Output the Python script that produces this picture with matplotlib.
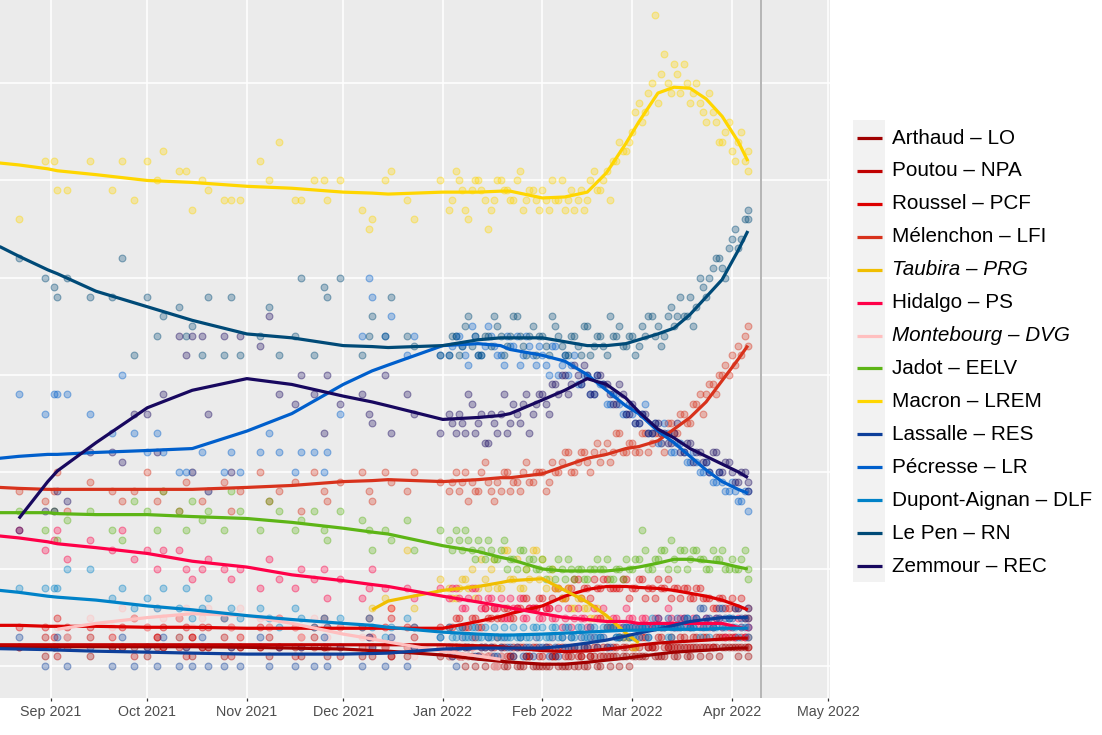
import numpy as np
import matplotlib
matplotlib.use("Agg")
import matplotlib.pyplot as plt
from matplotlib.lines import Line2D
from matplotlib.patches import Rectangle

plt.rcParams['font.family'] = ['Liberation Sans', 'DejaVu Sans']
nan = np.nan

# ---------------- data ----------------
candidates = ["Arthaud – LO", "Poutou – NPA", "Roussel – PCF", "Mélenchon – LFI",
              "Taubira – PRG", "Hidalgo – PS", "Montebourg – DVG", "Jadot – EELV",
              "Macron – LREM", "Lassalle – RES", "Pécresse – LR",
              "Dupont-Aignan – DLF", "Le Pen – RN", "Zemmour – REC"]
colors = ["#A00000", "#C00000", "#DD0000", "#D8321C", "#F0BE00", "#FF0048",
          "#FFBFBF", "#5DB516", "#FFD600", "#0D3F9A", "#005FCC", "#0082C8",
          "#004A77", "#18085F"]
withdrawn = [False, False, False, False, True, False, True, False,
             False, False, False, False, False, False]

# polls, series A
poll_dates = [
    "2021-08-22", "2021-08-30", "2021-09-02", "2021-09-03", "2021-09-06", "2021-09-13",
    "2021-09-20", "2021-09-23", "2021-09-27", "2021-10-01", "2021-10-04", "2021-10-06",
    "2021-10-11", "2021-10-13", "2021-10-15", "2021-10-18", "2021-10-20", "2021-10-25",
    "2021-10-27", "2021-10-30", "2021-11-05", "2021-11-08", "2021-11-11", "2021-11-16",
    "2021-11-18", "2021-11-22", "2021-11-25", "2021-11-26", "2021-11-30", "2021-12-07",
    "2021-12-09", "2021-12-10", "2021-12-14", "2021-12-16", "2021-12-21", "2021-12-23",
    "2021-12-31",
    "2022-01-03", "2022-01-05", "2022-01-07", "2022-01-09", "2022-01-11", "2022-01-13",
    "2022-01-15", "2022-01-17", "2022-01-19", "2022-01-21", "2022-01-23", "2022-01-25",
    "2022-01-27", "2022-01-29", "2022-01-31",
    "2022-02-02", "2022-02-04", "2022-02-06", "2022-02-08", "2022-02-10", "2022-02-12",
    "2022-02-14", "2022-02-16", "2022-02-18", "2022-02-20", "2022-02-22", "2022-02-24",
    "2022-02-26", "2022-02-28",
    "2022-03-02", "2022-03-04", "2022-03-06", "2022-03-08", "2022-03-10", "2022-03-12",
    "2022-03-14", "2022-03-16", "2022-03-18", "2022-03-20", "2022-03-22", "2022-03-24",
    "2022-03-26", "2022-03-28", "2022-03-30",
    "2022-04-01", "2022-04-03", "2022-04-05", "2022-04-06"]

polls_arthaud = [1, 0.5, 1, 1, 1.5, 0.5, 1, 1, 1, 0.5, 1, 1, 1.5, 1, 0.5, 1, 1, 0.5, 1, 1,
                 1, 0.5, 1, 1, 0.5, 1, 1, 0.5, 1, 0.5, 1, 0.5, 1, 0.5, 0.5, 1, 0.5,
                 0.5, 1, 0.5, 0.5, 0, 0.5, 0.5, 0, 0.5, 0, 0.5, 0, 0.5, 0, 0,
                 0, 0.5, 0, 0, 0.5, 0, 0, 0.5, 0, 0.5, 0, 0.5, 0.5, 0,
                 0.5, 0.5, 1, 0.5, 0.5, 1, 0.5, 1, 0.5, 1, 0.5, 1, 1, 0.5, 1,
                 1, 0.5, 1, 1]
polls_poutou = [1, 1.5, 1, 0.5, 1, 1.5, 1, 1, 0.5, 1, 1.5, 1, 1, 0.5, 1.5, 1, 1, 1.5, 0.5, 1,
                1, 1.5, 1, 0.5, 1, 1.5, 1, 1, 0.5, 1, 1.5, 1, 1, 0.5, 1, 1.5, 1,
                1, 1, 0.5, 1, 1.5, 1, 0.5, 1, 1, 0.5, 1, 1, 0.5, 1, 0.5,
                1, 0.5, 1, 0.5, 1, 0.5, 1, 0.5, 1, 1, 0.5, 1, 1, 1.5,
                1, 1.5, 1, 1, 1.5, 1, 1, 1.5, 1, 1.5, 1, 1.5, 1, 1.5, 1.5,
                1.5, 1, 1.5, 1.5]
polls_roussel = [2, 2, 1.5, 2.5, 2, 2, 1.5, 2, 2.5, 2, 1.5, 2, 2.5, 2, 1.5, 2, 2, 2.5, 2, 1.5,
                 2, 2, 2.5, 2, 1.5, 2, 2.5, 2, 2, 2, 2.5, 1.5, 2, 2.5, 2, 2, 2,
                 2, 2.5, 2, 2, 2.5, 2, 2.5, 3, 2.5, 3, 2.5, 3, 3.5, 3, 3.5,
                 3, 3.5, 4, 3.5, 4, 4.5, 4, 3.5, 4, 4.5, 4, 4, 4.5, 3.5,
                 4, 4.5, 4, 3.5, 4, 4.5, 4, 3.5, 4, 3.5, 4, 3.5, 3, 3.5, 3,
                 3.5, 3, 2.5, 3]
polls_melenchon = [9, 8.5, 9, 10, 8, 9.5, 9, 8.5, 9, 10, 8.5, 9, 8, 9.5, 10, 8.5, 9, 9.5, 8, 9,
                   10, 8.5, 9, 9.5, 8, 10, 9, 8.5, 9.5, 10, 9, 8.5, 10, 9.5, 9, 10, 9.5,
                   9, 10, 9.5, 8.5, 9, 10, 9.5, 8.5, 9, 10, 9.5, 9, 10.5, 9.5, 10,
                   9, 10.5, 10, 11, 10, 10.5, 11, 10, 11.5, 11, 10.5, 12, 11, 11.5,
                   11, 12, 11, 12, 11.5, 12.5, 12, 13, 12.5, 13.5, 14, 14, 14.5, 15, 15.5,
                   16, 16.5, 17, 17.5]
polls_taubira = [nan] * 31 + [3, 3.5, 3, 6, 3, 4.5,
                 4, 3.5, 4.5, 4, 3.5, 5.5, 4, 5.5, 4, 6, 4.5, 4, 5, 6, 4.5,
                 4, 5, 4, 3.5, 3, 3.5, 3, 2.5, 3, 2.5, 2, 2, 1.5, 1.5,
                 1] + [nan] * 18
polls_hidalgo = [7, 6, 6.5, 7, 5.5, 6.5, 6, 7, 5.5, 6, 5, 6, 6, 5, 4.5, 5, 5.5, 5, 4.5, 5,
                 4, 5.5, 4.5, 4, 5, 4.5, 5, 3.5, 4.5, 3.5, 4, 5, 4, 3, 4, 3.5, 4,
                 3.5, 4, 3, 3.5, 4, 3, 3.5, 3, 3.5, 2.5, 3, 3.5, 2.5, 3, 2.5,
                 3, 2.5, 3, 2.5, 2, 3, 2.5, 2, 2.5, 3, 2, 2.5, 2, 2.5,
                 2, 2.5, 2, 2.5, 2, 3, 2, 2.5, 2, 2.5, 2, 2.5, 2, 2.5, 1.5,
                 2, 2.5, 1.5, 2]
polls_montebourg = [nan, nan, nan, 2, 1.5, 2.5, 2, 3, 2.5, 2, 3, 2.5, 2.5, 3, 2, 2.5, 3, 2.5,
                    2, 3, 2.5, 2, 2.5, 2, 1.5, 2.5, 2, 1.5, 2, 1.5, 1, 1.5, 1, 1.5, 1, 0.5, 1,
                    0.5, 1, 0.5, 0.5, 1, 0.5, 0.5, 0, 0.5] + [nan] * 39
polls_jadot = [8, 7, 8, 6.5, 7.5, 8, 7, 6.5, 8.5, 8, 7, 9, 8, 7, 8.5, 7.5, 8, 7, 9, 8,
               7, 8.5, 8, 7, 7.5, 8, 7, 6.5, 8, 7.5, 7, 6, 7, 6.5, 7.5, 6, 7,
               6.5, 7, 6, 6.5, 5.5, 6, 6.5, 5.5, 6, 5, 5.5, 6, 5, 5.5, 5,
               4.5, 5, 5.5, 4.5, 5, 5, 4.5, 5, 5.5, 5, 4.5, 5, 4.5, 5,
               5.5, 7, 5, 5.5, 6, 5, 5.5, 6, 5, 6, 5.5, 5, 6, 5.5, 5,
               5.5, 5, 6, 5]
polls_macron = [23, 26, 26, 24.5, 24.5, 26, 24.5, 26, 24, 26, 25, 26.5, 25.5, 25.5, 23.5, 25,
                24.5, 24, 24, 24, 26, 25, 27, 24, 24, 25, 25, 24, 25, 23.5, 22.5, 23, 25,
                25.5, 24, 23, 25,
                23.5, 25.5, 24.5, 23, 25, 24.5, 22.5, 24, 25, 24.5, 24, 25.5, 24, 24.5, 23.5,
                24, 25, 24, 23.5, 24.5, 24, 23.5, 25, 24.5, 25, 24, 26, 26.5, 27,
                28.5, 28, 29.5, 33.5, 30.5, 30, 31, 29.5, 30, 29.5, 29, 28, 28.5, 27, 27.5,
                26.5, 27, 26, 26.5]
polls_lassalle = [1.5, 0, 1, 1.5, 0, 1, 0, 1.5, 0, 1, 0, 1.5, 0, 1, 0, 1.5, 0, 0, 1, 0,
                  1.5, 0, 1, 0, 1, 0, 1.5, 0, 1, 0, 1.5, 1, 0, 1.5, 0, 1, 1.5,
                  1, 0, 1.5, 1, 0.5, 1, 1.5, 0.5, 1, 1, 0.5, 1.5, 1, 0.5, 1,
                  1, 1.5, 0.5, 1, 1.5, 1, 1, 1.5, 1, 1.5, 1, 1.5, 1.5, 2,
                  1.5, 2, 1.5, 2, 2, 2.5, 2, 2, 2.5, 2, 3, 2.5, 2, 3, 2.5,
                  2.5, 3, 2.5, 3]
polls_pecresse = [14, 13, 14, 14, 14, 13, 12, 15, 12, 11, 12, 11, 10, 10, 10, 11, 9, 10, 11, 10,
                  11, 12, 11, 10, 11, 11, 10, 11, 13, 17, 20, 19, 17, 18, 16, 17, 16,
                  16, 17, 16.5, 15.5, 17, 16, 17.5, 16.5, 16, 17, 16.5, 15.5, 17, 16, 16.5,
                  15.5, 16.5, 15, 16, 15.5, 14.5, 15, 14, 15, 14.5, 13.5, 14, 13, 13.5,
                  12.5, 13, 12, 12.5, 11.5, 12, 11, 11.5, 10.5, 11, 10, 10.5, 9.5, 10, 9,
                  9.5, 8.5, 9, 8]
polls_dupont = [4, 4, 4, 4, 5, 5, 3.5, 4, 3, 3.5, 3, 4, 3, 4, 2.5, 3, 3.5, 2.5, 3, 2.5,
                3, 2.5, 2, 3, 2.5, 2, 2.5, 2, 2.5, 2, 2.5, 2, 1.5, 2, 2.5, 2, 1.5,
                2, 1.5, 2, 1.5, 2, 1.5, 1.5, 2, 1.5, 1.5, 2, 1.5, 1.5, 2, 1.5,
                1.5, 2, 1.5, 2, 1.5, 2, 1.5, 2, 1.5, 2, 2, 1.5, 2, 1.5,
                2, 2, 1.5, 2, 2, 1.5, 2, 2, 2.5, 2, 1.5, 2, 2, 2.5, 2,
                2, 1.5, 2, 2]
polls_lepen = [21, 20, 19.5, 19, 20, 19, 19, 21, 16, 19, 17, 18, 18.5, 17, 17.5, 16, 19, 16,
               19, 16, 17, 18.5, 16, 17, 20, 16, 19.5, 19, 20, 16, 17, 18, 17, 19, 17, 16.5, 16,
               16, 17, 16.5, 18, 17, 16, 17, 18, 17, 16.5, 18, 17, 16, 17.5, 17,
               16.5, 18, 17, 16, 17, 16.5, 17.5, 16, 17, 16.5, 18, 17, 16.5, 17,
               16, 17.5, 18, 17, 16.5, 18, 17.5, 19, 18, 17.5, 20, 19, 20.5, 21, 20,
               22, 21.5, 23, 23.5]
polls_zemmour = [7, 8, 8, 9, 8.5, 11, 11, 10.5, 13, 13, 11, 14, 17, 16, 17, 17, 13, 17, 10, 17,
                 16.5, 18, 14, 13.5, 15, 14, 12, 15, 13.5, 14, 13, 12.5, 15, 12, 14, 13, 12,
                 13, 12, 12.5, 14, 12, 13, 11.5, 12.5, 13, 12, 13.5, 12.5, 14, 13, 14,
                 13.5, 14.5, 14, 15, 14.5, 15, 15.5, 14, 15, 14.5, 14, 13.5, 14, 13,
                 12.5, 13, 12, 12.5, 12, 11.5, 12, 11, 11.5, 10.5, 11, 10.5, 11, 10, 10.5,
                 10, 9.5, 10, 9]

# polls, series B (rolling polls on alternate days, Jan-Apr 2022)
poll_dates_b = [
    "2022-01-04", "2022-01-06", "2022-01-08", "2022-01-10", "2022-01-12", "2022-01-14",
    "2022-01-16", "2022-01-18", "2022-01-20", "2022-01-22", "2022-01-24", "2022-01-26",
    "2022-01-28", "2022-01-30",
    "2022-02-01", "2022-02-03", "2022-02-05", "2022-02-07", "2022-02-09", "2022-02-11",
    "2022-02-13", "2022-02-15", "2022-02-17", "2022-02-19", "2022-02-21", "2022-02-23",
    "2022-02-25", "2022-02-27",
    "2022-03-01", "2022-03-03", "2022-03-05", "2022-03-07", "2022-03-09", "2022-03-11",
    "2022-03-13", "2022-03-15", "2022-03-17", "2022-03-19", "2022-03-21", "2022-03-23",
    "2022-03-25", "2022-03-27", "2022-03-29", "2022-03-31",
    "2022-04-02", "2022-04-04", "2022-04-06"]
polls_b_arthaud = [0.5, 0.5, 0, 0.5, 0.5, 0, 0.5, 0, 0, 0.5, 0, 0, 0.5, 0,
                   0, 0, 0.5, 0, 0, 0, 0.5, 0, 0.5, 0, 0.5, 0.5, 0, 0.5,
                   0.5, 0.5, 0.5, 1, 0.5, 0.5, 1, 0.5, 1, 0.5, 1, 1, 0.5, 1, 1, 1,
                   1, 1, 0.5]
polls_b_poutou = [1, 0.5, 1, 1, 0.5, 1, 1, 1.5, 1, 0.5, 1, 1, 0.5, 1,
                  0.5, 1, 0.5, 1, 0.5, 1, 0.5, 1, 1, 0.5, 1, 1, 1.5, 1,
                  1, 1, 1.5, 1, 1.5, 1, 1.5, 1, 1.5, 1, 1.5, 1.5, 1, 1.5, 1.5, 1.5,
                  1.5, 1.5, 1]
polls_b_roussel = [2, 2.5, 2, 2.5, 2, 3, 2.5, 2.5, 3, 2.5, 3, 3.5, 3, 3,
                   3.5, 3, 4, 3.5, 4, 4.5, 3.5, 4, 4.5, 4, 4.5, 4, 4, 4.5,
                   4, 4.5, 3.5, 4, 4.5, 4, 3.5, 4, 4, 3.5, 4, 3.5, 3.5, 3, 3.5, 3,
                   3, 3.5, 2.5]
polls_b_melenchon = [9.5, 9, 10, 9.5, 9, 10.5, 9, 9.5, 10, 9, 9.5, 10, 9.5, 10,
                     10, 9.5, 10, 10.5, 11, 10, 11, 10.5, 11, 10.5, 11.5, 11, 12, 11,
                     11.5, 11, 12, 11.5, 12, 11, 12.5, 12, 13, 12.5, 13.5, 13, 14.5, 14, 15, 15,
                     15.5, 16, 16.5]
polls_b_taubira = [3.5, 4, 4.5, 5, 4, 4.5, 5, 4, 6, 4.5, 5.5, 4, 4.5, 6,
                   5.5, 4.5, 4, 3.5, 4, 3, 3.5, 3, 2.5, 2.5, 2, 2, 1.5, 1.5,
                   1] + [nan] * 18
polls_b_hidalgo = [4, 3.5, 3, 4, 3.5, 3, 3.5, 3, 2.5, 3.5, 3, 2.5, 3, 3,
                   2.5, 3, 2.5, 2, 3, 2.5, 2.5, 2, 3, 2.5, 2, 2.5, 2, 3,
                   2.5, 2, 2.5, 2, 2.5, 2, 2.5, 2, 2.5, 2, 2.5, 2, 2, 2.5, 2, 2,
                   1.5, 2, 2]
polls_b_montebourg = [1, 0.5, 0.5, 1, 0.5, 0.5, 0.5, 0] + [nan] * 39
polls_b_jadot = [6, 6.5, 7, 6, 6.5, 5.5, 6, 5.5, 6.5, 5.5, 5, 6, 5.5, 5,
                 5.5, 5, 4.5, 5, 5.5, 4.5, 5, 4.5, 5, 5, 5.5, 4.5, 5, 5.5,
                 5, 5.5, 6, 5, 5.5, 6, 6.5, 5, 6, 5.5, 6, 5.5, 5, 5.5, 6, 5,
                 5, 5.5, 4.5]
polls_b_macron = [24, 25, 23.5, 24.5, 25, 24, 23.5, 25, 24.5, 24, 25, 23.5, 24.5, 24,
                  24.5, 23.5, 24, 25, 24, 23.5, 24.5, 24, 25.5, 24.5, 25.5, 26, 27, 26.5,
                  27.5, 29, 28.5, 30, 29, 31.5, 29.5, 30.5, 31, 29, 30, 28.5, 29.5, 28, 27, 28,
                  26, 27.5, 25.5]
polls_b_lassalle = [0.5, 1, 1, 1.5, 0.5, 1, 1, 0.5, 1.5, 1, 1, 0.5, 1, 1.5,
                    1, 0.5, 1, 1.5, 1, 1, 1.5, 1, 1.5, 1.5, 1, 2, 1.5, 2,
                    2, 1.5, 2, 2, 2.5, 2, 2, 2.5, 2.5, 2, 2.5, 3, 2.5, 2.5, 3, 2.5,
                    3, 2.5, 2.5]
polls_b_pecresse = [16.5, 17, 16, 17.5, 16, 16.5, 17, 16, 15.5, 16.5, 17, 16, 16.5, 15.5,
                    16, 15, 16.5, 15.5, 15, 16, 14.5, 15, 14, 14.5, 13.5, 14, 13.5, 13,
                    13, 12.5, 13.5, 12, 11.5, 12.5, 11, 11.5, 11, 10.5, 10.5, 10, 10, 9.5,
                    9.5, 9, 9, 8.5, 9]
polls_b_dupont = [1.5, 2, 1.5, 2, 1.5, 2, 1.5, 1.5, 2, 1.5, 1.5, 2, 1.5, 2,
                  2, 1.5, 2, 1.5, 2, 1.5, 2, 1.5, 2, 1.5, 2, 2, 1.5, 2,
                  1.5, 2, 2, 2.5, 2, 2, 1.5, 2, 2, 2, 2.5, 2, 1.5, 2, 2, 2.5,
                  2, 2, 1.5]
polls_b_lepen = [17, 16, 17.5, 16.5, 16, 17, 16.5, 17.5, 16, 17, 18, 16.5, 17, 16,
                 17, 16, 17.5, 16.5, 16, 17, 16, 17.5, 16.5, 17, 16, 17, 17.5, 16.5,
                 17, 16.5, 17, 18, 17.5, 17, 18.5, 18, 18, 19, 18.5, 19.5, 20, 21, 20.5, 21.5,
                 22.5, 22, 23]
polls_b_zemmour = [12.5, 13, 12, 13.5, 12.5, 11.5, 13, 12, 14, 12.5, 13, 13.5, 12, 13.5,
                   14, 13, 14.5, 15, 14, 15.5, 14.5, 15, 14, 15, 14.5, 13.5, 14.5, 13,
                   13.5, 12.5, 13, 12, 12.5, 12, 11.5, 12.5, 11, 11.5, 11, 10.5, 10, 11, 10,
                   10.5, 9.5, 10, 9.5]

# smoothed trend lines, read at these dates
trend_dates = ["2021-08-16", "2021-08-22", "2021-08-31", "2021-09-03", "2021-09-15",
               "2021-10-01", "2021-10-15", "2021-11-01", "2021-11-15", "2021-12-01",
               "2021-12-10", "2021-12-15", "2022-01-01", "2022-01-12", "2022-01-19",
               "2022-01-22", "2022-02-01", "2022-02-08", "2022-02-15", "2022-02-21",
               "2022-02-27", "2022-03-03", "2022-03-09", "2022-03-14", "2022-03-19",
               "2022-03-24", "2022-03-29", "2022-04-03", "2022-04-06"]
trend_arthaud = [1.0, 1.0, 1.0, 1.0, 1.0, 1.0, 1.0, 0.97, 0.93, 0.88, 0.8, 0.77, 0.57, 0.36,
                 0.25, 0.21, 0.1, 0.1, 0.2, 0.31, 0.41, 0.5, 0.62, 0.72, 0.77, 0.82, 0.88,
                 0.93, 0.93]
trend_poutou = [1.1, 1.1, 1.1, 1.1, 1.1, 1.1, 1.1, 1.1, 1.1, 1.1, 1.1, 1.1, 1.1, 1.05, 1.0,
                0.95, 0.8, 0.75, 0.78, 0.88, 0.98, 1.08, 1.19, 1.24, 1.29, 1.34, 1.39, 1.44,
                1.44]
trend_roussel = [2.1, 2.1, 2.05, 2.05, 2.05, 2.0, 2.0, 1.95, 1.95, 1.95, 1.95, 1.95, 1.95, 2.3,
                 2.55, 2.7, 3.1, 3.6, 3.95, 4.1, 4.1, 4.05, 4.0, 3.9, 3.75, 3.6, 3.4, 3.1, 2.9]
trend_melenchon = [9.2, 9.15, 9.1, 9.1, 9.1, 9.1, 9.1, 9.2, 9.3, 9.5, 9.55, 9.6, 9.5, 9.6, 9.7,
                   9.7, 9.9, 10.3, 10.7, 10.9, 11.2, 11.3, 11.6, 12.2, 12.8, 13.6, 14.7,
                   15.8, 16.5]
trend_taubira = [nan] * 10 + [2.9, 3.35, 3.9, 4.1, 4.3, 4.4, 4.5, 3.9, 3.3, 2.6, 1.7, 1.2] + [nan] * 7
trend_hidalgo = [6.7, 6.6, 6.4, 6.3, 6.1, 5.8, 5.4, 5.1, 4.7, 4.4, 4.2, 4.1, 3.6, 3.3, 3.1,
                 3.0, 2.7, 2.5, 2.4, 2.3, 2.3, 2.2, 2.2, 2.2, 2.2, 2.2, 2.2, 2.0, 1.9]
trend_montebourg = [nan, nan, nan, 1.9, 2.2, 2.5, 2.7, 2.6, 2.2, 1.65, 1.4, 1.24, 0.77, 0.52,
                    0.35] + [nan] * 14
trend_jadot = [7.9, 7.9, 7.9, 7.85, 7.8, 7.8, 7.7, 7.6, 7.4, 7.1, 6.9, 6.8, 6.2, 5.9, 5.6,
               5.5, 5.0, 4.9, 4.9, 4.9, 5.0, 5.1, 5.3, 5.5, 5.5, 5.4, 5.3, 5.1, 5.0]
trend_macron = [25.9, 25.8, 25.6, 25.5, 25.3, 25.0, 24.9, 24.7, 24.6, 24.4, 24.35, 24.3, 24.4,
                24.4, 24.45, 24.45, 24.1, 24.15, 24.4, 25.4, 26.9, 28.0, 29.5, 29.8, 29.75,
                29.2, 28.3, 27.0, 26.0]
trend_lassalle = [0.9, 0.88, 0.85, 0.83, 0.77, 0.72, 0.67, 0.62, 0.62, 0.62, 0.65, 0.67, 0.88,
                  0.93, 0.93, 0.93, 0.93, 1.03, 1.19, 1.34, 1.55, 1.7, 1.9, 2.1, 2.3, 2.4, 2.5,
                  2.5, 2.5]
trend_pecresse = [10.7, 10.8, 10.9, 10.9, 11.0, 11.1, 11.2, 12.1, 13.0, 14.5, 15.2, 15.5, 16.5,
                  16.6, 16.5, 16.3, 16.0, 15.7, 15.0, 14.2, 13.4, 13.0, 12.1, 11.5, 10.8, 10.1,
                  9.5, 9.1, 8.9]
trend_dupont = [3.9, 3.8, 3.6, 3.55, 3.4, 3.1, 2.9, 2.6, 2.4, 2.2, 2.1, 2.0, 1.75, 1.65, 1.6,
                1.6, 1.65, 1.7, 1.75, 1.8, 1.85, 1.85, 1.9, 1.9, 1.9, 1.9, 1.95, 1.95, 1.95]
trend_lepen = [21.6, 21.1, 20.4, 20.2, 19.3, 18.5, 17.8, 17.1, 16.9, 16.5, 16.45, 16.4, 16.5,
               16.8, 16.9, 16.9, 16.9, 16.7, 16.5, 16.5, 16.6, 16.8, 17.1, 17.4, 18.1, 19.0,
               19.9, 21.4, 22.4]
trend_zemmour = [nan, 7.6, 9.5, 10.05, 11.5, 13.3, 14.2, 14.8, 14.5, 13.9, 13.6, 13.4, 12.7,
                 12.8, 12.9, 13.0, 13.7, 14.2, 14.8, 14.5, 13.8, 13.1, 12.2, 11.75, 11.2, 10.8,
                 10.4, 10.0, 9.7]

polls = [polls_arthaud, polls_poutou, polls_roussel, polls_melenchon, polls_taubira,
         polls_hidalgo, polls_montebourg, polls_jadot, polls_macron, polls_lassalle,
         polls_pecresse, polls_dupont, polls_lepen, polls_zemmour]
polls_b = [polls_b_arthaud, polls_b_poutou, polls_b_roussel, polls_b_melenchon,
           polls_b_taubira, polls_b_hidalgo, polls_b_montebourg, polls_b_jadot,
           polls_b_macron, polls_b_lassalle, polls_b_pecresse, polls_b_dupont,
           polls_b_lepen, polls_b_zemmour]
trends = [trend_arthaud, trend_poutou, trend_roussel, trend_melenchon, trend_taubira,
          trend_hidalgo, trend_montebourg, trend_jadot, trend_macron, trend_lassalle,
          trend_pecresse, trend_dupont, trend_lepen, trend_zemmour]

month_ticks = ["2021-09-01", "2021-10-01", "2021-11-01", "2021-12-01", "2022-01-01",
               "2022-02-01", "2022-03-01", "2022-04-01", "2022-05-01"]
month_labels = ["Sep 2021", "Oct 2021", "Nov 2021", "Dec 2021", "Jan 2022",
                "Feb 2022", "Mar 2022", "Apr 2022", "May 2022"]
election_day = "2022-04-10"

# ---------------- figure ----------------
W, H, DPI = 1102, 735, 100
fig = plt.figure(figsize=(W / DPI, H / DPI), dpi=DPI)
ax = fig.add_axes([0, 1 - 698 / H, 830 / W, 698 / H])
ax.set_facecolor("#EBEBEB")
for s in ax.spines.values():
    s.set_visible(False)

def d(s):
    return np.datetime64(s)

xa = np.array([d(s) for s in poll_dates])
xb = np.array([d(s) for s in poll_dates_b])
xt = np.array([d(s) for s in trend_dates])

for va, vb, col in zip(polls, polls_b, colors):
    for xs, vals in ((xa, va), (xb, vb)):
        v = np.array(vals, dtype=float)
        m = ~np.isnan(v)
        ax.scatter(xs[m], v[m], s=24, facecolor=matplotlib.colors.to_rgba(col, 0.3),
                   edgecolor=matplotlib.colors.to_rgba(col, 0.42), linewidth=0.8, zorder=3)

for vals, col in zip(trends, colors):
    v = np.array(vals, dtype=float)
    m = ~np.isnan(v)
    ax.plot(xt[m], v[m], color=col, lw=2.3, solid_capstyle="butt",
            solid_joinstyle="round", zorder=4)

ax.axvline(d(election_day), color="#B5B5B5", lw=1.4, zorder=2)

x0 = np.datetime64("2021-09-01") - np.timedelta64(int(15.9 * 24), "h")
x1 = np.datetime64("2022-05-01") + np.timedelta64(int(0.6 * 24), "h")
ax.set_xlim(x0, x1)
ax.set_ylim(-1.64, 34.29)

ax.set_xticks([d(s) for s in month_ticks])
ax.set_xticklabels(month_labels)
ax.set_yticks([0, 5, 10, 15, 20, 25, 30])
ax.tick_params(axis="y", left=False, labelleft=False)
ax.tick_params(axis="x", length=2.5, width=0.9, color="#333333", pad=2.5,
               labelsize=10.3, labelcolor="#4D4D4D")
ax.grid(True, color="white", lw=1.1, zorder=1)
ax.set_axisbelow(True)

# ---------------- legend (manual, ggplot-like) ----------------
def fx(px):
    return px / W

def fy(py):
    return 1 - py / H

fig.patches.append(Rectangle((fx(853), fy(582)), fx(885) - fx(853), fy(120) - fy(582),
                             transform=fig.transFigure, facecolor="#F2F2F2",
                             edgecolor="none", zorder=0))
step = (566 - 138) / 13
for i, (name, col, it) in enumerate(zip(candidates, colors, withdrawn)):
    yy = 138 + i * step
    fig.lines.append(Line2D([fx(857), fx(882)], [fy(yy), fy(yy)], transform=fig.transFigure,
                            color=col, lw=2.3, solid_capstyle="butt"))
    fig.text(fx(892), fy(yy), name, fontsize=14.9, va="center", ha="left", color="black",
             style="italic" if it else "normal")

fig.savefig("out.png", dpi=DPI)
